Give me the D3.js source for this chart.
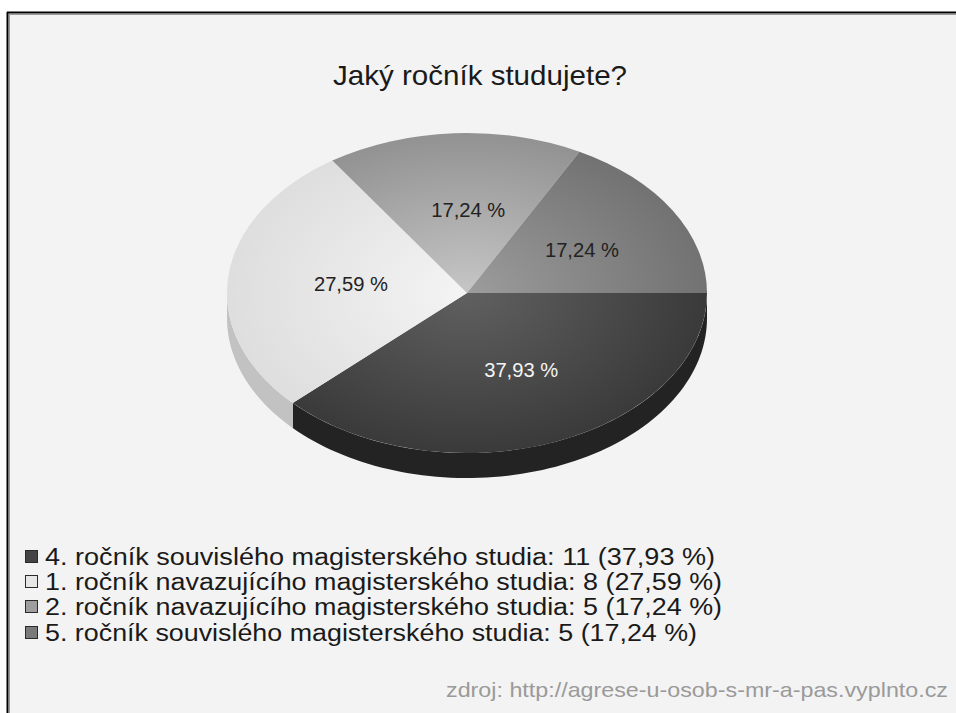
<!DOCTYPE html>
<html>
<head>
<meta charset="utf-8">
<script src="https://cdn.jsdelivr.net/npm/d3@7"></script>
<style>
  html, body { margin: 0; padding: 0; background: #ffffff; }
  svg { display: block; }
  text { font-family: "Liberation Sans", Arial, sans-serif; }
</style>
</head>
<body>
<svg id="chart" width="956" height="713"></svg>
<script>
// Survey answers: "Jaký ročník studujete?"
const categories = [
  "4. ročník souvislého magisterského studia",
  "1. ročník navazujícího magisterského studia",
  "2. ročník navazujícího magisterského studia",
  "5. ročník souvislého magisterského studia"
];
const counts = [11, 8, 5, 5];
const percentLabels = ["37,93 %", "27,59 %", "17,24 %", "17,24 %"];

const titleText = "Jaký ročník studujete?";
const sourceText = "zdroj: http://agrese-u-osob-s-mr-a-pas.vyplnto.cz";

// Grey shades per slice: [center, rim] for the top face, side wall, swatch, label colour
const topInner = ["#606060", "#f4f4f4", "#c6c6c6", "#9c9c9c"];
const topOuter = ["#3a3a3a", "#dedede", "#929292", "#727272"];
const sideFill = ["#232323", "#c2c2c2", "#7a7a7a", "#5a5a5a"];
const swatchFill = ["#444444", "#e6e6e6", "#9e9e9e", "#7a7a7a"];
const labelFill = ["#f4f4f4", "#222222", "#222222", "#222222"];

const W = 956, H = 713;
const svg = d3.select("#chart");

// Panel with a frame on the top and left edges
svg.append("rect").attr("x", 8).attr("y", 13).attr("width", W - 8).attr("height", H - 13)
  .attr("fill", "#f3f3f3");
svg.append("line").attr("x1", 7).attr("x2", W).attr("y1", 12.5).attr("y2", 12.5)
  .attr("stroke", "#000").attr("stroke-width", 2);
svg.append("line").attr("x1", 7.5).attr("x2", 7.5).attr("y1", 12).attr("y2", H)
  .attr("stroke", "#000").attr("stroke-width", 2);
svg.append("line").attr("x1", 9).attr("x2", W).attr("y1", 14.5).attr("y2", 14.5)
  .attr("stroke", "#9a9a9a").attr("stroke-width", 1);
svg.append("line").attr("x1", 9.5).attr("x2", 9.5).attr("y1", 14).attr("y2", H)
  .attr("stroke", "#9a9a9a").attr("stroke-width", 1);

// Title
svg.append("text").attr("x", 480).attr("y", 85)
  .attr("text-anchor", "middle").attr("font-size", 28).attr("fill", "#1a1a1a")
  .attr("textLength", 294).attr("lengthAdjust", "spacingAndGlyphs")
  .text(titleText);

// Pie geometry (ellipse seen in perspective)
const cx = 467, cy = 293, rx = 240, ry = 160, depth = 25;
const k = ry / rx;

const pie = d3.pie().sort(null).value(d => d)
  .startAngle(Math.PI / 2).endAngle(Math.PI / 2 + 2 * Math.PI);
const arcs = pie(counts);

const arc = d3.arc().innerRadius(0).outerRadius(rx);
const labelArc = d3.arc().innerRadius(rx * 0.52).outerRadius(rx * 0.52);

const defs = svg.append("defs");
arcs.forEach((a, i) => {
  const g = defs.append("radialGradient").attr("id", "grad" + i)
    .attr("gradientUnits", "userSpaceOnUse")
    .attr("cx", 0).attr("cy", 0).attr("r", rx);
  g.append("stop").attr("offset", "0%").attr("stop-color", topInner[i]);
  g.append("stop").attr("offset", "100%").attr("stop-color", topOuter[i]);
});

// Point on the ellipse rim for a d3 angle (0 = 12 o'clock, clockwise)
const rim = (ang, dy) => [cx + rx * Math.sin(ang), cy + dy - ry * Math.cos(ang)];

// Side walls: only the front half (angles between 3 and 9 o'clock) is visible
const sides = svg.append("g");
arcs.forEach((a, i) => {
  const lo = Math.max(a.startAngle, Math.PI / 2);
  const hi = Math.min(a.endAngle, 3 * Math.PI / 2);
  if (hi <= lo) return;
  const steps = 80;
  const top = d3.range(steps + 1).map(s => rim(lo + (hi - lo) * s / steps, 0));
  const bottom = d3.range(steps + 1).map(s => rim(hi - (hi - lo) * s / steps, depth));
  sides.append("path")
    .attr("d", d3.line()(top.concat(bottom)) + "Z")
    .attr("fill", sideFill[i]);
});

// Top faces
const tops = svg.append("g").attr("transform", `translate(${cx},${cy}) scale(1,${k})`);
tops.selectAll("path").data(arcs).join("path")
  .attr("d", arc)
  .attr("fill", (d, i) => `url(#grad${i})`);

// Percentage labels on the slices
svg.append("g").selectAll("text").data(arcs).join("text")
  .attr("x", d => cx + 8 + labelArc.centroid(d)[0])
  .attr("y", d => cy + labelArc.centroid(d)[1] * k)
  .attr("dy", "0.35em")
  .attr("text-anchor", "middle")
  .attr("font-size", 20)
  .attr("textLength", 74).attr("lengthAdjust", "spacingAndGlyphs")
  .attr("fill", (d, i) => labelFill[i])
  .text((d, i) => percentLabels[i]);

// Legend
const legend = svg.append("g");
const rowY = [557, 582, 607, 633];
const rowWidth = [670, 677, 677, 652];
categories.forEach((c, i) => {
  legend.append("rect").attr("x", 25.5).attr("y", rowY[i] - 6.5).attr("width", 12).attr("height", 12)
    .attr("fill", swatchFill[i]).attr("stroke", "#2a2a2a").attr("stroke-width", 1);
  legend.append("text").attr("x", 45).attr("y", rowY[i]).attr("dy", "0.36em")
    .attr("font-size", 23).attr("fill", "#1a1a1a")
    .attr("textLength", rowWidth[i]).attr("lengthAdjust", "spacingAndGlyphs")
    .text(`${c}: ${counts[i]} (${percentLabels[i]})`);
});

// Source note
svg.append("text").attr("x", 948).attr("y", 697).attr("text-anchor", "end")
  .attr("font-size", 21).attr("fill", "#9a9a9a")
  .attr("textLength", 502).attr("lengthAdjust", "spacingAndGlyphs")
  .text(sourceText);
</script>
</body>
</html>
